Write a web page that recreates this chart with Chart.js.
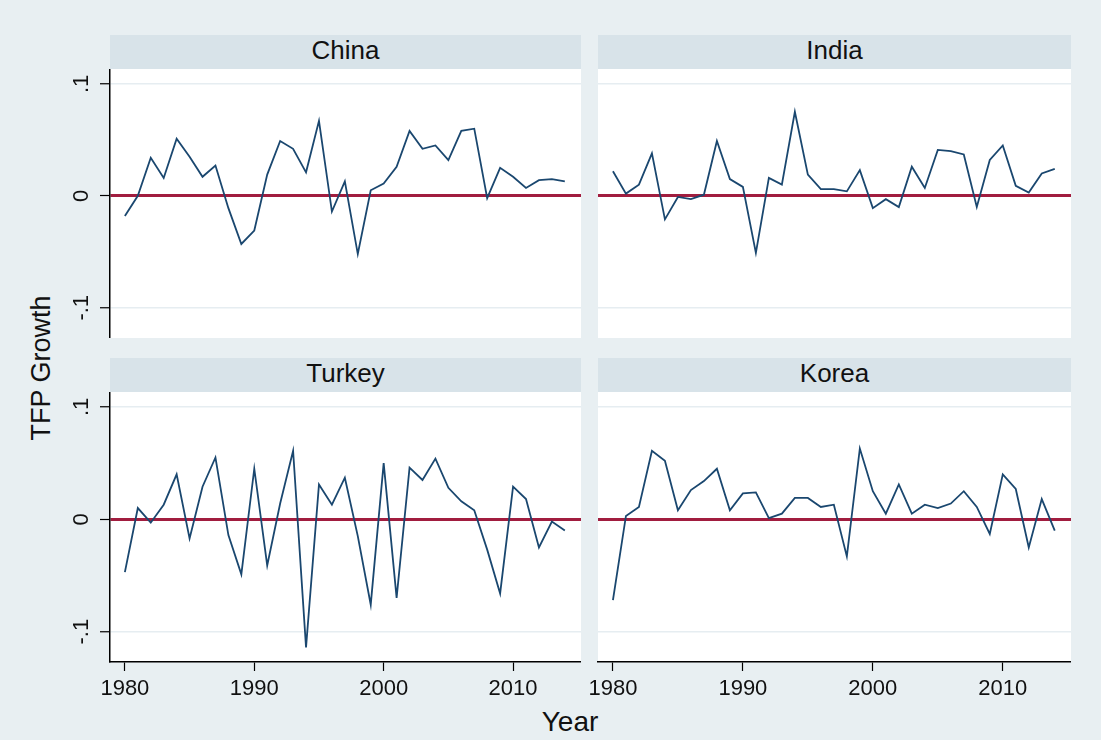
<!DOCTYPE html>
<html>
<head>
<meta charset="utf-8">
<title>TFP Growth</title>
<script src="https://cdn.jsdelivr.net/npm/chart.js@4/dist/chart.umd.min.js"></script>
<style>
  body {
    margin: 0;
    width: 1101px;
    height: 740px;
    position: relative;
    overflow: hidden;
    background: #e8eff2;
    font-family: 'Liberation Sans', Arial, sans-serif;
    color: #111;
  }
  .strip {
    position: absolute;
    height: 34px;
    background: #d8e3e9;
    text-align: center;
    font-size: 26px;
    line-height: 30px;
  }
  canvas { position: absolute; }
  #y-title {
    position: absolute;
    left: 41px;
    top: 368px;
    transform: translate(-50%, -50%) rotate(-90deg);
    white-space: nowrap;
    font-size: 27px;
  }
  #x-title {
    position: absolute;
    left: 570px;
    top: 708px;
    transform: translateX(-50%);
    font-size: 28px;
    line-height: 28px;
  }
</style>
</head>
<body>

<div class="strip" style="left:110px; top:35px; width:471px;">China</div>
<div class="strip" style="left:598px; top:35px; width:473px;">India</div>
<div class="strip" style="left:110px; top:358px; width:471px;">Turkey</div>
<div class="strip" style="left:598px; top:358px; width:473px;">Korea</div>

<canvas id="chart-china" width="521" height="269" style="left:60px; top:69px;"></canvas>
<canvas id="chart-india" width="487" height="269" style="left:584px; top:69px;"></canvas>
<canvas id="chart-turkey" width="521" height="308" style="left:60px; top:392px;"></canvas>
<canvas id="chart-korea" width="487" height="308" style="left:584px; top:392px;"></canvas>

<div id="y-title">TFP Growth</div>
<div id="x-title">Year</div>

<script>
'use strict';

//***********Data***********
let years = [];
for (let yr = 1980; yr <= 2014; yr++) {
  years.push(yr);
}

let china = [-0.018, 0.000, 0.034, 0.016, 0.051, 0.035, 0.017, 0.027, -0.011, -0.043,
  -0.031, 0.019, 0.049, 0.042, 0.021, 0.067, -0.014, 0.013, -0.052, 0.005,
  0.011, 0.026, 0.058, 0.042, 0.045, 0.032, 0.058, 0.060, -0.002, 0.025,
  0.017, 0.007, 0.014, 0.015, 0.013];

let india = [0.022, 0.002, 0.010, 0.038, -0.021, -0.001, -0.003, 0.001, 0.049, 0.015,
  0.008, -0.051, 0.016, 0.010, 0.075, 0.019, 0.006, 0.006, 0.004, 0.023,
  -0.011, -0.003, -0.010, 0.026, 0.007, 0.041, 0.040, 0.037, -0.010, 0.032,
  0.045, 0.009, 0.003, 0.020, 0.024];

let turkey = [-0.047, 0.010, -0.003, 0.013, 0.040, -0.017, 0.029, 0.055, -0.014, -0.049,
  0.045, -0.041, 0.014, 0.061, -0.114, 0.031, 0.013, 0.037, -0.015, -0.076,
  0.050, -0.070, 0.046, 0.035, 0.054, 0.028, 0.016, 0.008, -0.027, -0.066,
  0.029, 0.018, -0.025, -0.002, -0.010];

let korea = [-0.072, 0.003, 0.011, 0.061, 0.052, 0.008, 0.026, 0.034, 0.045, 0.008,
  0.023, 0.024, 0.001, 0.005, 0.019, 0.019, 0.011, 0.013, -0.033, 0.063,
  0.025, 0.005, 0.031, 0.005, 0.013, 0.010, 0.014, 0.025, 0.011, -0.013,
  0.040, 0.027, -0.025, 0.018, -0.010];

let xTicks = [1980, 1990, 2000, 2010];
let yTicks = [-0.1, 0, 0.1];

//***********Look***********
let lineColor = '#1a476f';
let zeroColor = '#a11d3f';
let gridColor = '#e6edf1';

Chart.defaults.font.family = "'Liberation Sans', Arial, sans-serif";
Chart.defaults.color = '#111';

// white plot region behind the lines
let plotBg = {
  id: 'plotBg',
  beforeDraw(chart) {
    let a = chart.chartArea;
    let ctx = chart.ctx;
    ctx.save();
    ctx.fillStyle = '#fff';
    ctx.fillRect(a.left, a.top, a.right - a.left, a.bottom - a.top);
    ctx.restore();
  }
};

function yLabel(value) {
  if (value === 0) return '0';
  return String(value).replace('0.', '.');
}

// keep the plot box exactly where the canvas puts it
function noPadding(scale) {
  scale.paddingTop = 0;
  scale.paddingBottom = 0;
  scale.paddingLeft = 0;
  scale.paddingRight = 0;
}

//***********Panel builder***********
// showYAxis: left column panels carry the y axis, right column gets room for the 1980 label
function makePanel(canvasId, values, showYAxis, showXAxis) {
  let points = years.map((yr, i) => ({ x: yr, y: values[i] }));
  let ctx = document.getElementById(canvasId).getContext('2d');

  return new Chart(ctx, {
    type: 'line',
    data: {
      datasets: [{
        data: points,
        borderColor: lineColor,
        borderWidth: 1.8,
        pointRadius: 0,
        tension: 0,
        fill: false
      }]
    },
    options: {
      responsive: false,
      animation: false,
      events: [],
      layout: { padding: { left: showYAxis ? 0 : 14, right: 0, top: 0, bottom: 0 }, autoPadding: false },
      plugins: {
        legend: { display: false },
        tooltip: { enabled: false }
      },
      scales: {
        x: {
          type: 'linear',
          min: 1978.85,
          max: 2015.25,
          display: showXAxis,
          afterBuildTicks: scale => { scale.ticks = xTicks.map(v => ({ value: v })); },
          afterFit: scale => {
            scale.height = showXAxis ? 38 : 0;
            noPadding(scale);
          },
          grid: {
            drawOnChartArea: false,
            drawTicks: true,
            tickLength: 9,
            tickColor: '#000',
            tickWidth: 1.2
          },
          border: { display: true, color: '#000', width: 1.5 },
          ticks: {
            font: { size: 22 },
            padding: 5,
            maxRotation: 0,
            color: '#111',
            callback: v => String(v)
          }
        },
        y: {
          type: 'linear',
          min: -0.127,
          max: 0.1133,
          afterBuildTicks: scale => { scale.ticks = yTicks.map(v => ({ value: v })); },
          afterFit: scale => {
            scale.width = showYAxis ? 50 : 0;
            noPadding(scale);
          },
          grid: {
            color: c => (c.tick && c.tick.value === 0 ? zeroColor : gridColor),
            lineWidth: c => (c.tick && c.tick.value === 0 ? 3 : 1.5),
            drawTicks: showYAxis,
            tickLength: 10,
            tickColor: '#000',
            tickWidth: 1.2
          },
          border: { display: showYAxis, color: '#000', width: 1.5 },
          ticks: {
            display: showYAxis,
            font: { size: 22 },
            padding: 5,
            minRotation: 90,
            maxRotation: 90,
            crossAlign: 'center',
            color: '#111',
            callback: yLabel
          }
        }
      }
    },
    plugins: [plotBg]
  });
}

makePanel('chart-china', china, true, false);
makePanel('chart-india', india, false, false);
makePanel('chart-turkey', turkey, true, true);
makePanel('chart-korea', korea, false, true);
</script>
</body>
</html>
